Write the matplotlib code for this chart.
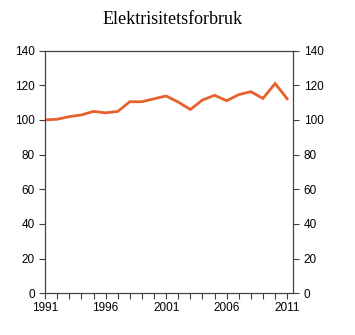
import matplotlib.pyplot as plt

years = list(range(1991, 2012))
forbruk = [100.0, 100.4, 101.9, 102.9, 104.9, 104.1, 104.9, 110.5, 110.5, 112.2,
           113.8, 110.3, 106.0, 111.5, 114.2, 111.1, 114.6, 116.3, 112.4, 121.0, 112.2]
yticks = [0, 20, 40, 60, 80, 100, 120, 140]
xlabels = [1991, 1996, 2001, 2006, 2011]

axis_col = '#404040'

fig = plt.figure(figsize=(3.55, 3.35), dpi=100)
ax = fig.add_axes([0.127, 0.1245, 0.699, 0.7245])

ax.plot(years, forbruk, color='#E8612C', linewidth=2.0, solid_joinstyle='miter')

ax.set_xlim(1991, 2011.5)
ax.set_ylim(0, 140)
ax.set_yticks(yticks)
ax.set_xticks(years, minor=True)
ax.set_xticks(xlabels)

for s in ax.spines.values():
    s.set_color(axis_col)
    s.set_linewidth(0.8)

ax.tick_params(which='both', direction='out', length=4, color=axis_col, width=0.8,
               labelsize=8.5, labelcolor='black')
ax.tick_params(axis='x', pad=2.5)

ax2 = ax.twinx()
ax2.set_ylim(0, 140)
ax2.set_yticks(yticks)
ax2.tick_params(direction='out', length=4, color=axis_col, width=0.8, labelsize=8.5)
for s in ax2.spines.values():
    s.set_color(axis_col)
    s.set_linewidth(0.8)

for a in (ax, ax2):
    for lab in a.get_xticklabels() + a.get_yticklabels():
        lab.set_family('Liberation Sans')

fig.text(0.485, 0.943, 'Elektrisitetsforbruk', ha='center', va='center',
         family='Liberation Serif', fontsize=13)

fig.savefig('out.png', dpi=100)
